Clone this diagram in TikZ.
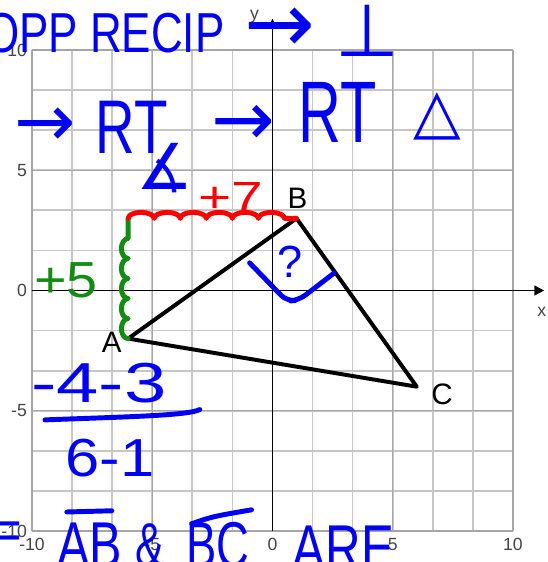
\documentclass[tikz,border=0pt]{standalone}
\usepackage{fontspec}
\setmainfont{Liberation Sans}
\newfontfamily\symfont{DejaVu Sans}
\usetikzlibrary{arrows.meta,positioning,decorations.pathmorphing}
\definecolor{inkblue}{RGB}{0,0,245}
\definecolor{inkred}{RGB}{250,0,0}
\definecolor{inkgreen}{RGB}{20,140,20}
\definecolor{ticktext}{RGB}{68,68,68}
\newcommand{\squeeze}[2]{\scalebox{#1}[1]{#2}}
\tikzset{
  gridline/.style={gray!45, line width=1.2pt},
  gridmajor/.style={gray!70, line width=0.9pt},
  axis/.style={black, line width=1.1pt, -{Triangle[length=7pt,width=7pt]}},
  side/.style={black, line width=2.8pt, line join=round, line cap=round},
  vertex/.style={font=\fontsize{21}{21}\selectfont, inner sep=0pt},
  tick/.style={font=\fontsize{12.5}{12.5}\selectfont, text=ticktext, inner sep=0pt},
  hand/.style={inner sep=0pt, font=\fontsize{#1}{#1}\selectfont},
  sym/.style={inner sep=0pt, font=\symfont\fontsize{#1}{#1}\selectfont},
  inkline/.style={line width=3.5pt, line cap=round, line join=round}
}
\begin{document}
\begin{tikzpicture}[x=0.6cm,y=0.6cm]
  \useasboundingbox (-11.33,-11.29) rectangle (11.45,12.08);

  % grid and axes
  \draw[gridline] (-10,-10) grid (10,10);
  \foreach \k in {-10,-5,5,10} {
    \draw[gridmajor] (\k,-10) -- (\k,10);
    \draw[gridmajor] (-10,\k) -- (10,\k);
  }
  \draw[axis] (0,-10) -- (0,11.3);
  \draw[axis] (-10,0) -- (11.3,0);
  \node[tick] (xlab) at (11.2,-0.9) {x};
  \node[tick] (ylab) at (-0.75,11.4) {y};
  \foreach \k in {-10,-5,0,5,10} {
    \node[tick, anchor=east] at (-10.2,\k) {\k};
    \node[tick, anchor=north] at (\k,-10.3) {\k};
  }

  % triangle
  \coordinate (A) at (-6,-2);
  \coordinate (B) at (1,3);
  \coordinate (C) at (6,-4);
  \coordinate (corner) at (-6,3);
  \draw[side] (A) -- (B) -- (C) -- cycle;
  \node[vertex] (lblA) at (-6.68,-2.15) {A};
  \node[vertex] (lblB) at (1.04,3.85) {B};
  \node[vertex] (lblC) at (7.05,-4.3) {C};

  % rise and run
  \draw[inkline, inkgreen, decorate, decoration={bumps, segment length=1.0cm, amplitude=0.17cm}] (A) -- (corner);
  \draw[inkline, inkred, decorate, decoration={bumps, segment length=1.3cm, amplitude=0.15cm}] (corner) -- (B);
  \node[hand=36, text=inkgreen] (dy) at (-8.59,0.44) {\squeeze{1.1}{+5}};
  \node[hand=31, text=inkred] (dx) at (-1.74,3.85) {\squeeze{1.3}{+7}};

  % notes
  \node[hand=40, text=inkblue] (opp) at (-6.97,10.71) {\squeeze{0.78}{OPP RECIP}};
  \node[sym=60, text=inkblue] (toperp) at (0.33,10.83) {→};
  \node[sym=52, text=inkblue] (perp) at (3.94,10.79) {⊥};
  \node[sym=52, text=inkblue] (to1) at (-9.46,6.8) {→};
  \node[hand=54, text=inkblue] (rt1) at (-5.85,6.8) {\squeeze{0.72}{RT}};
  \node[sym=45, text=inkblue] (ang) at (-4.48,5.09) {∡};
  \node[sym=54, text=inkblue] (to2) at (-1.2,6.88) {→};
  \node[hand=62, text=inkblue] (rt2) at (2.7,7.42) {\squeeze{0.68}{RT}};
  \node[sym=44, text=inkblue] (tri) at (6.85,7.25) {△};

  \node[hand=32, text=inkblue] (ask) at (0.75,1.18) {?};
  \draw[inkline, inkblue, rounded corners=6pt] (-0.95,1.15) -- (0.6,-0.45) -- (1.1,-0.4) -- (2.57,0.73);

  \node[hand=40, text=inkblue] (num) at (-7.22,-3.85) {\squeeze{1.35}{-4-3}};
  \draw[inkline, inkblue] (-9.46,-5.38) .. controls (-6,-5.25) and (-3.5,-5.2) .. (-3.02,-4.95);
  \node[hand=38, text=inkblue] (den) at (-6.76,-6.97) {\squeeze{1.15}{6-1}};

  \node[hand=40, text=inkblue] (eq) at (-11.1,-10.2) {=};
  \node[hand=46, text=inkblue] (ab) at (-7.6,-10.6) {\squeeze{0.75}{AB}};
  \draw[inkline, inkblue] (-8.55,-9.21) -- (-6.68,-9.16);
  \node[hand=44, text=inkblue] (amp) at (-5.1,-10.6) {\squeeze{0.7}{\&}};
  \node[hand=46, text=inkblue] (bc) at (-2.28,-10.6) {\squeeze{0.7}{BC}};
  \draw[inkline, inkblue] (-3.36,-9.7) .. controls (-2.5,-9.4) .. (-0.87,-9.12);
  \node[hand=46, text=inkblue] (are) at (2.95,-10.7) {\squeeze{0.76}{ARE}};
\end{tikzpicture}
\end{document}
